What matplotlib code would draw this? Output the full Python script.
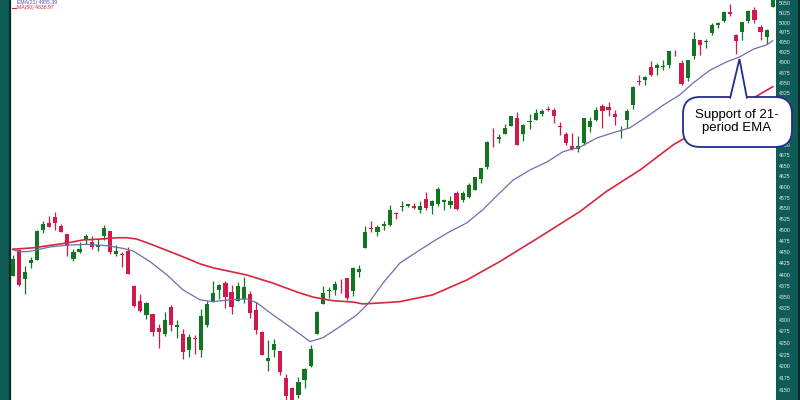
import numpy as np
import matplotlib.pyplot as plt
from matplotlib.patches import FancyBboxPatch, Polygon
from matplotlib.lines import Line2D
from matplotlib.ticker import FuncFormatter, NullLocator, NullFormatter

# daily candles, Aug 23 2023 .. Feb 22 2024
dates = ["2023-08-23", "2023-08-24", "2023-08-25", "2023-08-28", "2023-08-29", "2023-08-30", "2023-08-31",
         "2023-09-01", "2023-09-05", "2023-09-06", "2023-09-07", "2023-09-08", "2023-09-11", "2023-09-12",
         "2023-09-13", "2023-09-14", "2023-09-15", "2023-09-18", "2023-09-19", "2023-09-20", "2023-09-21",
         "2023-09-22", "2023-09-25", "2023-09-26", "2023-09-27", "2023-09-28", "2023-09-29",
         "2023-10-02", "2023-10-03", "2023-10-04", "2023-10-05", "2023-10-06", "2023-10-09", "2023-10-10",
         "2023-10-11", "2023-10-12", "2023-10-13", "2023-10-16", "2023-10-17", "2023-10-18", "2023-10-19",
         "2023-10-20", "2023-10-23", "2023-10-24", "2023-10-25", "2023-10-26", "2023-10-27", "2023-10-30",
         "2023-10-31", "2023-11-01", "2023-11-02", "2023-11-03", "2023-11-06", "2023-11-07", "2023-11-08",
         "2023-11-09", "2023-11-10", "2023-11-13", "2023-11-14", "2023-11-15", "2023-11-16", "2023-11-17",
         "2023-11-20", "2023-11-21", "2023-11-22", "2023-11-24", "2023-11-27", "2023-11-28", "2023-11-29",
         "2023-11-30", "2023-12-01", "2023-12-04", "2023-12-05", "2023-12-06", "2023-12-07", "2023-12-08",
         "2023-12-11", "2023-12-12", "2023-12-13", "2023-12-14", "2023-12-15", "2023-12-18", "2023-12-19",
         "2023-12-20", "2023-12-21", "2023-12-22", "2023-12-26", "2023-12-27", "2023-12-28", "2023-12-29",
         "2024-01-02", "2024-01-03", "2024-01-04", "2024-01-05", "2024-01-08", "2024-01-09", "2024-01-10",
         "2024-01-11", "2024-01-12", "2024-01-16", "2024-01-17", "2024-01-18", "2024-01-19", "2024-01-22",
         "2024-01-23", "2024-01-24", "2024-01-25", "2024-01-26", "2024-01-29", "2024-01-30", "2024-01-31",
         "2024-02-01", "2024-02-02", "2024-02-05", "2024-02-06", "2024-02-07", "2024-02-08", "2024-02-09",
         "2024-02-12", "2024-02-13", "2024-02-14", "2024-02-15", "2024-02-16", "2024-02-20", "2024-02-21",
         "2024-02-22"]

opens = [4396.4, 4455.2, 4389.4, 4426.0, 4432.8, 4500.3, 4517.0,
         4530.6, 4510.1, 4490.4, 4434.6, 4451.3, 4481.0, 4473.3, 4462.7, 4487.8, 4498.0, 4445.1, 4445.4, 4452.8,
         4374.4, 4341.7, 4310.6, 4312.9, 4282.6, 4269.7, 4328.2,
         4284.5, 4269.8, 4233.8, 4259.3, 4234.8, 4289.0, 4339.8, 4366.6, 4380.9, 4360.5, 4342.4, 4345.2, 4357.4,
         4321.4, 4273.9, 4210.4, 4235.8, 4232.4, 4176.0, 4152.9, 4139.4, 4171.3,
         4201.3, 4268.3, 4334.2, 4364.3, 4366.2, 4384.4, 4391.4, 4364.2, 4406.7, 4459.0, 4505.3, 4497.1, 4509.6,
         4511.7, 4538.8, 4553.0, 4555.8, 4554.9, 4545.6, 4571.8, 4554.9,
         4559.4, 4564.4, 4557.3, 4586.2, 4568.8, 4576.2, 4593.4, 4618.3, 4646.2, 4721.0, 4714.2, 4725.6, 4743.7,
         4764.7, 4724.3, 4753.9, 4758.9, 4773.5, 4786.4, 4782.9,
         4745.2, 4725.1, 4697.4, 4690.6, 4703.7, 4741.9, 4759.9, 4792.1, 4791.2, 4772.4, 4739.1, 4760.1, 4796.3,
         4853.4, 4856.8, 4888.6, 4886.7, 4888.9, 4893.0, 4925.9, 4899.2,
         4861.1, 4916.1, 4957.2, 4950.2, 4973.1, 4995.2, 5004.2, 5026.8, 4967.9, 4976.4, 5003.1, 5031.1, 4989.3,
         4963.0, 5038.8]
highs = [4443.2, 4458.3, 4418.5, 4439.6, 4500.1, 4521.7, 4532.3,
         4541.3, 4514.3, 4490.4, 4457.8, 4473.5, 4490.8, 4487.1, 4479.4, 4512.0, 4498.0, 4466.4, 4449.9, 4461.0,
         4375.7, 4357.4, 4338.5, 4313.0, 4292.1, 4317.3, 4333.2,
         4300.6, 4281.2, 4268.5, 4267.1, 4324.1, 4341.7, 4385.5, 4378.6, 4385.9, 4377.1, 4383.3, 4393.6, 4364.2,
         4339.5, 4276.6, 4255.8, 4259.4, 4232.4, 4183.6, 4156.7, 4177.5, 4195.6,
         4245.6, 4319.7, 4373.6, 4372.2, 4386.3, 4391.2, 4393.4, 4418.0, 4421.8, 4508.7, 4521.2, 4512.0, 4520.1,
         4557.1, 4542.1, 4568.4, 4560.3, 4562.1, 4568.1, 4587.6, 4569.9,
         4599.4, 4572.4, 4578.6, 4590.7, 4590.9, 4609.2, 4623.7, 4643.9, 4709.7, 4738.6, 4725.5, 4749.5, 4768.7,
         4778.0, 4748.7, 4772.9, 4784.7, 4785.4, 4793.3, 4788.4,
         4754.3, 4729.3, 4726.8, 4721.5, 4764.5, 4765.5, 4790.8, 4798.5, 4802.4, 4782.3, 4744.2, 4785.8, 4842.1,
         4868.4, 4866.5, 4903.7, 4898.2, 4906.7, 4929.3, 4931.1, 4906.8,
         4907.0, 4975.3, 4957.2, 4957.8, 4999.9, 5000.4, 5030.1, 5048.4, 4971.0, 5002.5, 5032.7, 5038.7, 4993.7,
         4983.2, 5094.4]
lows = [4396.4, 4375.6, 4356.3, 4415.0, 4431.7, 4493.6, 4507.4,
        4501.4, 4496.0, 4442.4, 4430.5, 4448.4, 4467.9, 4456.8, 4453.5, 4478.7, 4447.2, 4442.1, 4416.6, 4401.4,
        4329.2, 4316.5, 4302.7, 4266.0, 4238.6, 4264.4, 4274.9,
        4260.2, 4216.5, 4220.5, 4225.9, 4219.6, 4283.8, 4339.6, 4345.3, 4325.4, 4312.0, 4342.4, 4337.5, 4303.8,
        4269.7, 4223.0, 4189.2, 4219.4, 4181.4, 4127.9, 4103.8, 4132.9, 4153.1,
        4197.7, 4268.3, 4334.2, 4347.5, 4355.4, 4359.8, 4343.9, 4353.3, 4393.8, 4459.0, 4495.3, 4487.8, 4499.7,
        4510.4, 4525.5, 4545.1, 4552.8, 4549.1, 4540.5, 4547.2, 4537.2,
        4554.7, 4546.7, 4551.7, 4546.5, 4565.2, 4574.1, 4593.4, 4608.1, 4643.2, 4694.3, 4704.7, 4725.6, 4743.7,
        4697.8, 4708.4, 4736.8, 4758.5, 4768.9, 4781.0, 4752.0,
        4722.7, 4699.7, 4687.5, 4682.1, 4699.8, 4730.4, 4756.2, 4739.6, 4769.0, 4747.1, 4714.8, 4740.6, 4785.9,
        4844.1, 4844.4, 4865.9, 4869.3, 4881.5, 4887.4, 4916.3, 4845.2,
        4853.5, 4908.0, 4918.1, 4934.9, 4969.1, 4987.1, 5000.3, 5016.3, 4920.3, 4956.5, 4999.4, 4999.5, 4955.0,
        4946.0, 5038.8]
closes = [4436.0, 4376.3, 4405.7, 4433.3, 4497.6, 4514.9, 4507.7,
          4515.8, 4496.8, 4465.5, 4451.1, 4457.5, 4487.5, 4461.9, 4467.4, 4505.1, 4450.3, 4453.5, 4444.0, 4402.2,
          4330.0, 4320.1, 4337.4, 4273.5, 4274.5, 4299.7, 4288.1,
          4288.4, 4229.5, 4263.8, 4258.2, 4308.5, 4335.7, 4358.2, 4377.0, 4349.6, 4327.8, 4373.6, 4373.2, 4314.6,
          4278.0, 4224.2, 4217.0, 4247.7, 4186.8, 4137.2, 4117.4, 4166.8, 4193.8,
          4237.9, 4317.8, 4358.3, 4366.0, 4378.4, 4382.8, 4347.4, 4415.2, 4411.6, 4495.7, 4502.9, 4508.2, 4514.0,
          4547.4, 4538.2, 4556.6, 4559.3, 4550.4, 4554.9, 4550.6, 4567.8,
          4594.6, 4569.8, 4567.2, 4549.3, 4585.6, 4604.4, 4622.4, 4643.7, 4707.1, 4719.6, 4719.2, 4740.6, 4768.4,
          4698.4, 4746.8, 4754.6, 4774.8, 4781.6, 4783.4, 4769.8,
          4742.8, 4704.8, 4688.7, 4697.2, 4763.5, 4756.5, 4783.5, 4780.2, 4783.8, 4766.0, 4739.2, 4780.9, 4839.8,
          4850.4, 4864.6, 4868.6, 4894.2, 4891.0, 4927.9, 4925.0, 4845.7,
          4906.2, 4958.6, 4942.8, 4954.2, 4995.1, 4997.9, 5026.6, 5021.8, 4953.2, 5000.6, 5029.7, 5005.6, 4975.5,
          4981.8, 5087.0]

# 21-period EMA and 50-day MA (candle index, value)
ema_idx = [0, 1.2, 2.8, 6.1, 8.9, 12.2, 15.5, 18.1, 19.8, 22.6, 25.4, 28.0, 30.8, 33.0, 35.7, 38.5, 40.2,
           42.8, 45.6, 48.9, 51.0, 53.8, 56.6, 58.5, 60.9, 63.7, 66.5, 69.1, 71.9, 74.7, 77.3, 80.1, 82.3,
           85.1, 87.9, 90.5, 93.3, 96.1, 98.7, 101.5, 104.3, 107.0, 109.7, 111.9, 114.7, 117.5, 119.6, 121.8,
           124.0, 125]
ema_val = [4456, 4451, 4452, 4462, 4466, 4468, 4465, 4459, 4453, 4429, 4399, 4366, 4344, 4340, 4344, 4346, 4337,
           4311, 4285, 4253, 4261, 4285, 4311, 4336, 4381, 4426, 4451, 4474, 4497, 4517, 4547, 4586, 4616,
           4640, 4659, 4683, 4694, 4716, 4728, 4740, 4767, 4795, 4820, 4849, 4881, 4902, 4914, 4933,
           4944, 4954]
ma_idx = [0, 3.3, 8.9, 11.6, 14.4, 17.2, 18.8, 20.4, 22.6, 25.4, 28.0, 30.8, 33.0, 38.5, 42.8, 46.8, 49.4,
          52.7, 56.0, 57.6, 60.4, 63.7, 69.1, 74.7, 80.1, 86.7, 93.3, 97.7, 103.2, 108.6, 111.4, 125]
ma_val = [4457, 4460, 4471, 4478, 4480, 4483, 4483, 4480, 4469, 4454, 4440, 4424, 4415, 4399, 4381, 4361, 4350,
          4342, 4339, 4335, 4337, 4340, 4355, 4388, 4429, 4485, 4543, 4590, 4640, 4699, 4723, 4840]

y_ticks = list(range(4150, 5051, 25))
legend_ema = "EMA(21) 4955.39"
legend_ma = "MA(50) 4838.97"
callout = "Support of 21-\nperiod EMA"

teal = "#0f5b56"
up_col = "#127522"
dn_col = "#d3184b"

fig = plt.figure(figsize=(8, 4), dpi=100, facecolor=teal)
ax = fig.add_axes([10 / 800, 0, 766 / 800, 1])
ax.set_facecolor("white")
ax.set_yscale("log")

x = np.arange(len(closes))
o = np.array(opens)
c = np.array(closes)
up = c >= o
cols = np.where(up, up_col, dn_col)
ax.vlines(x, lows, highs, colors=cols, lw=0.9, zorder=2)
body_lo = np.minimum(o, c)
body_h = np.maximum(np.abs(c - o), 1.5)
ax.bar(x, body_h, bottom=body_lo, width=0.68, color=cols, linewidth=0, zorder=3)

ax.plot(ema_idx, ema_val, color="#6b6fae", lw=0.9, zorder=4)
ax.plot(ma_idx, ma_val, color="#d9263f", lw=1.2, zorder=4)

ax.set_xlim(-0.44, 125.54)
ax.set_ylim(4128.7, 5057.7)
ax.set_xticks([])
ax.yaxis.tick_right()
ax.set_yticks(y_ticks)
ax.yaxis.set_major_formatter(FuncFormatter(lambda v, p: f"{v:.0f}"))
ax.yaxis.set_minor_locator(NullLocator())
ax.yaxis.set_minor_formatter(NullFormatter())
ax.tick_params(axis="y", length=0, pad=2.2, labelsize=3.8, labelcolor="#e2efee")
for lab in ax.get_yticklabels():
    lab.set_fontfamily("Liberation Sans")
for s in ["top", "right", "bottom"]:
    ax.spines[s].set_visible(False)
ax.spines["left"].set_color("#062d2a")
ax.spines["left"].set_linewidth(1.6)

# dark edge on the far right
fig.add_artist(Line2D([799 / 800, 799 / 800], [0, 1], transform=fig.transFigure, color="#062d2a", lw=1.6))

# legend text, top left
fig.text(17 / 800, 1 - 2.5 / 400, legend_ema, fontsize=3.7, color="#4b4f9c", va="center",
         family="Liberation Sans")
fig.add_artist(Line2D([12 / 800, 16 / 800], [1 - 7.5 / 400] * 2, transform=fig.transFigure,
                      color="#d9263f", lw=0.8))
fig.text(17 / 800, 1 - 7.5 / 400, legend_ma, fontsize=3.7, color="#d9263f", va="center",
         family="Liberation Sans")

# callout bubble (inches from bottom-left)
tr = fig.dpi_scale_trans
navy = "#262b8c"
bubble = FancyBboxPatch((6.83, 2.53), 1.09, 0.50, boxstyle="round,pad=0,rounding_size=0.17",
                        transform=tr, fc="white", ec=navy, lw=1.3, zorder=5)
fig.add_artist(bubble)
tail = Polygon([(7.30, 3.015), (7.395, 3.41), (7.47, 3.015)], closed=False, transform=tr,
               fc="white", ec=navy, lw=1.3, zorder=6, joinstyle="miter")
fig.add_artist(tail)
fig.text(7.37 / 8, 2.785 / 4, callout, ha="center", va="center", fontsize=9.5, color="black",
         family="Liberation Sans", linespacing=1.05, zorder=7)

fig.savefig("out.png", dpi=100, facecolor=teal)
